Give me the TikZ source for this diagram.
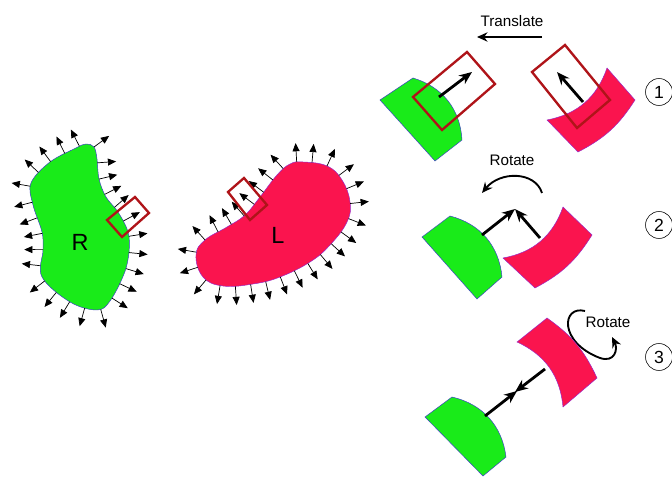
\documentclass[tikz,border=0pt]{standalone}
\usepackage{fontspec}
\setmainfont{Liberation Sans}
\usetikzlibrary{arrows.meta,decorations.markings}
\definecolor{recgreen}{RGB}{25,235,25}
\definecolor{ligpink}{RGB}{250,20,78}
\definecolor{boxred}{RGB}{175,20,25}
\definecolor{recline}{RGB}{60,60,200}
\definecolor{ligline}{RGB}{150,40,200}
\begin{document}
\begin{tikzpicture}[
    x=0.03cm, y=0.03cm,
    receptor/.style={fill=recgreen, draw=recline, line width=0.4pt},
    ligand/.style={fill=ligpink, draw=ligline, line width=0.4pt},
    window/.style={draw=boxred, line width=2pt},
    spike/.style={-{Triangle[length=7pt,width=6pt]}, draw=black, fill=none, line width=0.6pt},
    spikes/.style={postaction={decorate, decoration={markings,
        mark=between positions 0 and 0.99 step #1 with {\draw[spike] (0,0) -- (0pt,16pt);}}}},
    bond/.style={-{Stealth[length=11pt,width=9pt]}, line width=2.4pt},
    motion/.style={-{Stealth[length=9pt,width=8pt]}, line width=1.6pt},
    action/.style={font=\fontsize{13}{15}\selectfont},
    stage/.style={draw, circle, line width=0.5pt, minimum size=23pt, inner sep=0pt, font=\fontsize{15}{17}\selectfont}
]
  \useasboundingbox (0,0) rectangle (672,477);

  % Receptor R with surface normals
  \draw[receptor, spikes=0.0385] plot[smooth cycle, tension=0.6] coordinates {(86,333) (94,330) (97,318) (99,298) (106,280) (118,265) (128,245) (129,225) (124,203) (110,176) (97,167) (70,175) (42,200) (43,227) (42,245) (33,272) (31,294) (50,315) (76,329)};
  \node[font=\fontsize{20}{24}\selectfont] (rlabel) at (80,235) {R};
  \draw[window] (107,257) -- (135,280) -- (149,264) -- (122,240) -- cycle;

  % Ligand L with surface normals
  \draw[ligand, spikes=0.0357] plot[smooth cycle, tension=0.7] coordinates {(303,315) (327,311) (342,297) (350,275) (347,255) (330,232) (310,215) (280,200) (253,193) (223,191) (203,200) (196,222) (205,237) (227,250) (245,262) (260,280) (277,302) (290,313)};
  \node[font=\fontsize{20}{24}\selectfont] (llabel) at (278,242) {L};
  \draw[window] (228,285) -- (244,299) -- (267,272) -- (250,257) -- cycle;

  % Step 1: translate
  \node[action] (translate) at (512,456) {Translate};
  \coordinate (tr-from) at (542,440);
  \coordinate (tr-to) at (477,440);
  \draw[motion] (tr-from) -- (tr-to);
  \draw[receptor] (435,316) -- (380,377) -- (413,399) to[bend left=35] (462,337) -- cycle;
  \draw[ligand] (547,357) to[bend right=30] (607,409) -- (635,377) to[bend left=15] (578,325) -- cycle;
  \coordinate (g1) at (439,380);
  \coordinate (g1-tip) at (472,405);
  \coordinate (p1) at (583,375);
  \coordinate (p1-tip) at (557,405);
  \draw[bond] (g1) -- (g1-tip);
  \draw[bond] (p1) -- (p1-tip);
  \draw[window] (413,380) -- (467,425) -- (495,393) -- (442,347) -- cycle;
  \draw[window] (532,405) -- (565,432) -- (610,377) -- (577,349) -- cycle;
  \node[stage] (s1) at (659,385) {1};

  % Step 2: rotate normals onto each other
  \node[action] (rotate1) at (512,317) {Rotate};
  \coordinate (ro-from) at (542,284);
  \coordinate (ro-to) at (482,284);
  \draw[motion] (ro-from) .. controls (535,306) and (500,306) .. (ro-to);
  \draw[receptor] (477,178) -- (422,240) -- (450,261) to[bend left=35] (502,200) -- cycle;
  \draw[ligand] (503,219) to[bend right=30] (563,270) -- (592,242) to[bend left=15] (535,189) -- cycle;
  \coordinate (g2) at (482,242);
  \coordinate (p2) at (540,239);
  \coordinate (meet2) at (515,268);
  \draw[bond] (g2) -- (meet2);
  \draw[bond] (p2) -- (meet2);
  \node[stage] (s2) at (659,252) {2};

  % Step 3: rotate about the normal
  \node[action] (rotate2) at (608,155) {Rotate};
  \coordinate (spin-from) at (585,166);
  \coordinate (spin-mid) at (600,119);
  \coordinate (spin-to) at (612,140);
  \draw[motion] (spin-from) .. controls (562,172) and (558,135) .. (spin-mid) .. controls (615,114) and (618,128) .. (spin-to);
  \draw[receptor] (483,1) -- (425,60) -- (452,80) to[bend left=35] (506,20) -- cycle;
  \draw[ligand] (517,135) -- (547,159) to[bend left=15] (597,99) -- (563,70) to[bend right=30] (517,135) -- cycle;
  \coordinate (g3) at (485,61);
  \coordinate (g3-tip) at (517,86);
  \coordinate (p3) at (545,108);
  \coordinate (p3-tip) at (515,85);
  \draw[bond] (g3) -- (g3-tip);
  \draw[bond] (p3) -- (p3-tip);
  \node[stage] (s3) at (659,120) {3};
\end{tikzpicture}
\end{document}
